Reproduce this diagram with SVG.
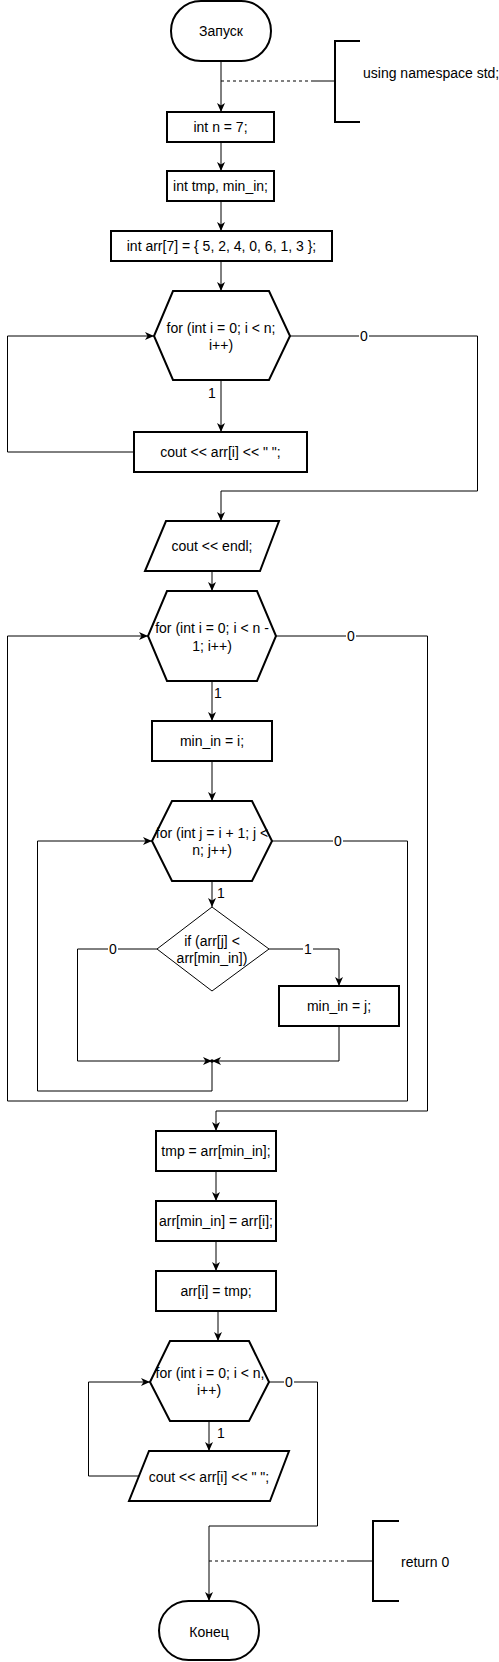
<svg xmlns="http://www.w3.org/2000/svg" width="499" height="1662" viewBox="0 0 499 1662">
<style>
.s{fill:#fff;stroke:#000;stroke-width:2}
.d{fill:#fff;stroke:#000;stroke-width:1}
.c{fill:none;stroke:#000;stroke-width:1}
.dash{fill:none;stroke:#000;stroke-width:1;stroke-dasharray:3 3}
.br{fill:none;stroke:#000;stroke-width:2}
text{font-family:"Liberation Sans",Arial,sans-serif;font-size:14px;fill:#000;dominant-baseline:central}
.m{text-anchor:middle}
.lb{fill:#fff;stroke:none}
</style>
<defs>
<marker id="a" markerUnits="userSpaceOnUse" markerWidth="12" markerHeight="10" refX="9" refY="4" orient="auto">
<path d="M0,0 L9,4 L0,8 L2.5,4 Z" fill="#000"/>
</marker>
</defs>
<g id="connectors">
<path class="c" d="M221,62 V112" marker-end="url(#a)"/>
<path class="dash" d="M221,81 H311"/>
<path class="c" d="M311,81 H335"/>
<path class="c" d="M221,142 V171" marker-end="url(#a)"/>
<path class="c" d="M221,201 V231" marker-end="url(#a)"/>
<path class="c" d="M221,261 V291" marker-end="url(#a)"/>
<path class="c" d="M221,380 V432" marker-end="url(#a)"/>
<path class="c" d="M134,452 H7.5 V336 H154" marker-end="url(#a)"/>
<path class="c" d="M290,336 H477.5 V491 H221 V521" marker-end="url(#a)"/>
<path class="c" d="M212,571 V591" marker-end="url(#a)"/>
<path class="c" d="M212,681 V721" marker-end="url(#a)"/>
<path class="c" d="M212,761 V801" marker-end="url(#a)"/>
<path class="c" d="M212,881 V907" marker-end="url(#a)"/>
<path class="c" d="M269,949 H339 V986" marker-end="url(#a)"/>
<path class="c" d="M339,1027 V1061 H212" marker-end="url(#a)"/>
<path class="c" d="M157,949 H77.5 V1061 H212" marker-end="url(#a)"/>
<path class="c" d="M212,1061 V1091 H37.5 V841 H152" marker-end="url(#a)"/>
<circle cx="212" cy="1061" r="1.8" fill="#000"/>
<path class="c" d="M272,841 H407.5 V1101 H7.5 V636 H148" marker-end="url(#a)"/>
<path class="c" d="M276,636 H427.5 V1111 H216 V1131" marker-end="url(#a)"/>
<path class="c" d="M216,1171 V1201" marker-end="url(#a)"/>
<path class="c" d="M216,1241 V1271" marker-end="url(#a)"/>
<path class="c" d="M218,1311 V1341" marker-end="url(#a)"/>
<path class="c" d="M209,1421 V1451" marker-end="url(#a)"/>
<path class="c" d="M139,1476 H88.5 V1382 H150" marker-end="url(#a)"/>
<path class="c" d="M269,1382 H317.5 V1526 H209 V1601" marker-end="url(#a)"/>
<path class="dash" d="M209,1561 H348"/>
<path class="c" d="M348,1561 H373"/>
<rect class="lb" x="359" y="329" width="10" height="14"/>
<text class="m" x="364" y="336">0</text>
<text class="m" x="212" y="393">1</text>
<text class="m" x="218" y="693">1</text>
<rect class="lb" x="346" y="629" width="10" height="14"/>
<text class="m" x="351" y="636">0</text>
<text class="m" x="221" y="893">1</text>
<rect class="lb" x="333" y="834" width="10" height="14"/>
<text class="m" x="338" y="841">0</text>
<rect class="lb" x="303" y="942" width="10" height="14"/>
<text class="m" x="308" y="949">1</text>
<rect class="lb" x="108" y="942" width="10" height="14"/>
<text class="m" x="113" y="949">0</text>
<text class="m" x="221" y="1433">1</text>
<rect class="lb" x="284" y="1375" width="10" height="14"/>
<text class="m" x="289" y="1382">0</text>
</g>
<g id="start">
<rect class="s" x="171" y="1" width="100" height="60" rx="30"/>
<text class="m" x="221" y="31">Запуск</text>
</g>
<g id="comment1">
<path class="br" d="M360,41 H335 V122 H360"/>
<text x="363" y="73">using namespace std;</text>
</g>
<g id="n1">
<rect class="s" x="167" y="112" width="107" height="30"/>
<text class="m" x="220.5" y="127">int n = 7;</text>
</g>
<g id="n2">
<rect class="s" x="167" y="171" width="107" height="30"/>
<text class="m" x="220.5" y="186">int tmp, min_in;</text>
</g>
<g id="n3">
<rect class="s" x="111" y="231" width="221" height="30"/>
<text class="m" x="221.5" y="246">int arr[7] = { 5, 2, 4, 0, 6, 1, 3 };</text>
</g>
<g id="for1">
<polygon class="s" points="173,291 269,291 290,336 269,380 173,380 154,336"/>
<text class="m" x="221" y="328">for (int i = 0; i &lt; n;</text>
<text class="m" x="221" y="345">i++)</text>
</g>
<g id="out1">
<rect class="s" x="134" y="432" width="173" height="40"/>
<text class="m" x="220.5" y="452">cout &lt;&lt; arr[i] &lt;&lt; " ";</text>
</g>
<g id="endl">
<polygon class="s" points="166,521 279,521 260,571 145,571"/>
<text class="m" x="212" y="546">cout &lt;&lt; endl;</text>
</g>
<g id="for2">
<polygon class="s" points="167,591 257,591 276,636 257,681 167,681 148,636"/>
<text class="m" x="212" y="628">for (int i = 0; i &lt; n -</text>
<text class="m" x="212" y="646">1; i++)</text>
</g>
<g id="minin1">
<rect class="s" x="152" y="721" width="120" height="40"/>
<text class="m" x="212" y="741">min_in = i;</text>
</g>
<g id="for3">
<polygon class="s" points="172,801 252,801 272,841 252,881 172,881 152,841"/>
<text class="m" x="212" y="833">for (int j = i + 1; j &lt;</text>
<text class="m" x="212" y="850">n; j++)</text>
</g>
<g id="if1">
<polygon class="d" points="212,907 269,949 212,991 157,949"/>
<text class="m" x="212" y="941">if (arr[j] &lt;</text>
<text class="m" x="212" y="958">arr[min_in])</text>
</g>
<g id="minin2">
<rect class="s" x="279" y="986" width="120" height="40"/>
<text class="m" x="339" y="1006">min_in = j;</text>
</g>
<g id="swap1">
<rect class="s" x="156" y="1131" width="120" height="40"/>
<text class="m" x="216" y="1151">tmp = arr[min_in];</text>
</g>
<g id="swap2">
<rect class="s" x="156" y="1201" width="120" height="40"/>
<text class="m" x="216" y="1221">arr[min_in] = arr[i];</text>
</g>
<g id="swap3">
<rect class="s" x="156" y="1271" width="120" height="40"/>
<text class="m" x="216" y="1291">arr[i] = tmp;</text>
</g>
<g id="for4">
<polygon class="s" points="170,1341 249,1341 269,1382 249,1421 170,1421 150,1382"/>
<text class="m" x="210" y="1373">for (int i = 0; i &lt; n,</text>
<text class="m" x="209" y="1390">i++)</text>
</g>
<g id="out2">
<polygon class="s" points="149,1451 289,1451 270,1501 129,1501"/>
<text class="m" x="209" y="1477">cout &lt;&lt; arr[i] &lt;&lt; " ";</text>
</g>
<g id="comment2">
<path class="br" d="M399,1521 H373 V1601 H399"/>
<text x="401" y="1562">return 0</text>
</g>
<g id="end">
<rect class="s" x="159" y="1601" width="100" height="59" rx="29.5"/>
<text class="m" x="209" y="1632">Конец</text>
</g>
</svg>
